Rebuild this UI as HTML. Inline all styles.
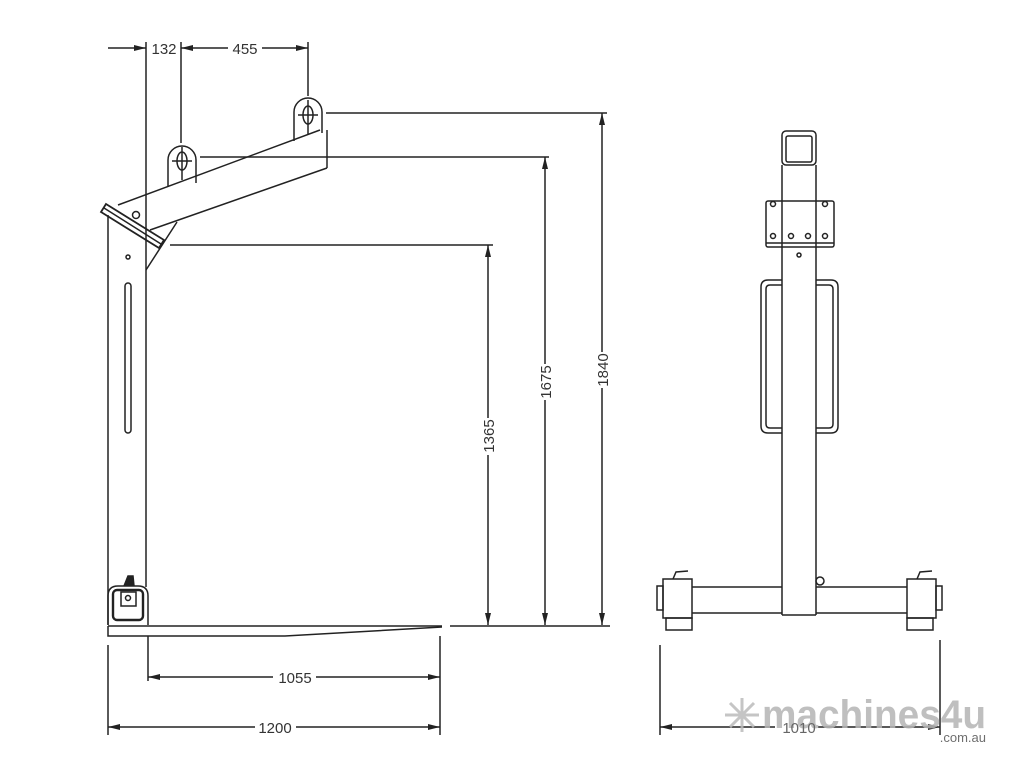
<!DOCTYPE html>
<html><head><meta charset="utf-8"><style>
html,body{margin:0;padding:0;background:#fff;}
svg{display:block;}
text{font-family:"Liberation Sans",sans-serif;fill:#333;}
</style></head><body>
<svg width="1024" height="768" viewBox="0 0 1024 768" xmlns="http://www.w3.org/2000/svg">
<defs>
<marker id="a" viewBox="0 0 12 6" refX="12" refY="3" markerWidth="12" markerHeight="6" orient="auto-start-reverse" markerUnits="userSpaceOnUse"><path d="M0,0 L12,3 L0,6 z" fill="#222"/></marker>
</defs>
<g stroke="#222" stroke-width="1.5" fill="none">
<!-- LEFT VIEW -->
<line x1="108" y1="215" x2="108" y2="625"/>
<line x1="146" y1="42" x2="146" y2="587"/>
<rect x="125" y="283" width="6" height="150" rx="3"/>
<circle cx="128" cy="257" r="2"/>
<line x1="118" y1="205" x2="320" y2="130"/>
<line x1="150" y1="230" x2="327" y2="168"/>
<line x1="327" y1="130" x2="327" y2="168"/>
<line x1="146" y1="270" x2="177" y2="222"/>
<path d="M106,204 L164,240 L159,248 L101,212 z" stroke-width="1.8"/>
<line x1="104" y1="208" x2="161" y2="244"/>
<circle cx="136" cy="215" r="3.5"/>
<path d="M168,187 L168,160 A14,14 0 0 1 196,160 L196,183"/>
<ellipse cx="182" cy="161" rx="5" ry="9"/>
<line x1="182" y1="147" x2="182" y2="180"/>
<line x1="172" y1="161" x2="192" y2="161"/>
<path d="M294,141 L294,112 A14,14 0 0 1 322,112 L322,133"/>
<ellipse cx="308" cy="115" rx="5" ry="9"/>
<line x1="308" y1="100" x2="308" y2="134"/>
<line x1="298" y1="115" x2="318" y2="115"/>
<line x1="108" y1="48" x2="146" y2="48" marker-end="url(#a)"/>
<line x1="181" y1="42" x2="181" y2="143"/>
<line x1="308" y1="42" x2="308" y2="96"/>
<line x1="181" y1="48" x2="228" y2="48" marker-start="url(#a)"/>
<line x1="262" y1="48" x2="308" y2="48" marker-end="url(#a)"/>
<line x1="326" y1="113" x2="607" y2="113"/>
<line x1="200" y1="157" x2="549" y2="157"/>
<line x1="170" y1="245" x2="493" y2="245"/>
<line x1="488" y1="245" x2="488" y2="418" marker-start="url(#a)"/>
<line x1="488" y1="455" x2="488" y2="625" marker-end="url(#a)"/>
<line x1="545" y1="157" x2="545" y2="364" marker-start="url(#a)"/>
<line x1="545" y1="400" x2="545" y2="625" marker-end="url(#a)"/>
<line x1="602" y1="113" x2="602" y2="352" marker-start="url(#a)"/>
<line x1="602" y1="388" x2="602" y2="625" marker-end="url(#a)"/>
<line x1="108" y1="626" x2="442" y2="626"/>
<path d="M108,626 L108,636 L285,636 L442,627"/>
<line x1="450" y1="626" x2="610" y2="626"/>
<path d="M108,625 L108,596 Q108,586 118,586 L138,586 Q148,586 148,596 L148,625"/>
<rect x="113" y="590" width="30" height="30" rx="4" stroke-width="2.4"/>
<rect x="121" y="592" width="15" height="14"/>
<circle cx="128" cy="598" r="2.5"/>
<path d="M124,586 L128,576 L133,576 L134,586" fill="#222"/>
<line x1="108" y1="645" x2="108" y2="735"/>
<line x1="148" y1="636" x2="148" y2="681"/>
<line x1="440" y1="636" x2="440" y2="735"/>
<line x1="148" y1="677" x2="273" y2="677" marker-start="url(#a)"/>
<line x1="316" y1="677" x2="440" y2="677" marker-end="url(#a)"/>
<line x1="108" y1="727" x2="255" y2="727" marker-start="url(#a)"/>
<line x1="296" y1="727" x2="440" y2="727" marker-end="url(#a)"/>
<!-- RIGHT VIEW -->
<rect x="782" y="131" width="34" height="34" rx="4"/>
<rect x="786" y="136" width="26" height="26" rx="2"/>
<line x1="782" y1="165" x2="782" y2="615"/>
<line x1="816" y1="165" x2="816" y2="615"/>
<line x1="782" y1="615" x2="816" y2="615"/>
<rect x="766" y="201" width="68" height="46" rx="2"/>
<line x1="766" y1="243" x2="834" y2="243"/>
<circle cx="773" cy="204" r="2.5"/><circle cx="825" cy="204" r="2.5"/>
<circle cx="773" cy="236" r="2.5"/><circle cx="791" cy="236" r="2.5"/><circle cx="808" cy="236" r="2.5"/><circle cx="825" cy="236" r="2.5"/>
<circle cx="799" cy="255" r="2"/>
<path d="M782,280 L768,280 Q761,280 761,287 L761,426 Q761,433 768,433 L782,433"/>
<path d="M782,285 L770,285 Q766,285 766,289 L766,424 Q766,428 770,428 L782,428"/>
<path d="M816,280 L831,280 Q838,280 838,287 L838,426 Q838,433 831,433 L816,433"/>
<path d="M816,285 L829,285 Q833,285 833,289 L833,424 Q833,428 829,428 L816,428"/>
<line x1="692" y1="587" x2="782" y2="587"/><line x1="816" y1="587" x2="907" y2="587"/>
<line x1="692" y1="613" x2="782" y2="613"/><line x1="816" y1="613" x2="907" y2="613"/>
<rect x="663" y="579" width="29" height="39"/>
<rect x="666" y="618" width="26" height="12"/>
<rect x="907" y="579" width="29" height="39"/>
<rect x="907" y="618" width="26" height="12"/>
<rect x="657" y="586" width="6" height="24"/>
<rect x="936" y="586" width="6" height="24"/>
<path d="M673,579 L676,572 L688,571"/>
<path d="M917,579 L920,572 L932,571"/>
<circle cx="820" cy="581" r="4"/>
<line x1="660" y1="645" x2="660" y2="735"/>
<line x1="940" y1="640" x2="940" y2="735"/>
<line x1="660" y1="727" x2="775" y2="727" marker-start="url(#a)"/>
<line x1="818" y1="727" x2="940" y2="727" marker-end="url(#a)"/>
</g>
<g font-size="15" text-anchor="middle">
<rect x="150" y="38" width="28" height="18" fill="#fff"/>
<text x="164" y="54">132</text>
<text x="245" y="54">455</text>
<text x="295" y="683">1055</text>
<text x="275" y="733">1200</text>
<text transform="translate(494,436) rotate(-90)">1365</text>
<text transform="translate(551,382) rotate(-90)">1675</text>
<text transform="translate(608,370) rotate(-90)">1840</text>
</g>
<g opacity="0.85">
<text x="762" y="728" font-size="40" font-weight="bold" style="fill:#b5b5b5" textLength="224" lengthAdjust="spacingAndGlyphs">machines4u</text>
<text x="986" y="742" font-size="13" text-anchor="end" style="fill:#555">.com.au</text>
<g stroke="#bbb" stroke-width="3"><line x1="725" y1="715" x2="759" y2="715"/><line x1="742" y1="698" x2="742" y2="732"/><line x1="730" y1="703" x2="754" y2="727"/><line x1="754" y1="703" x2="730" y2="727"/></g>
</g>
<text x="799" y="733" font-size="15" text-anchor="middle" style="fill:#666">1010</text>
</svg>
</body></html>
